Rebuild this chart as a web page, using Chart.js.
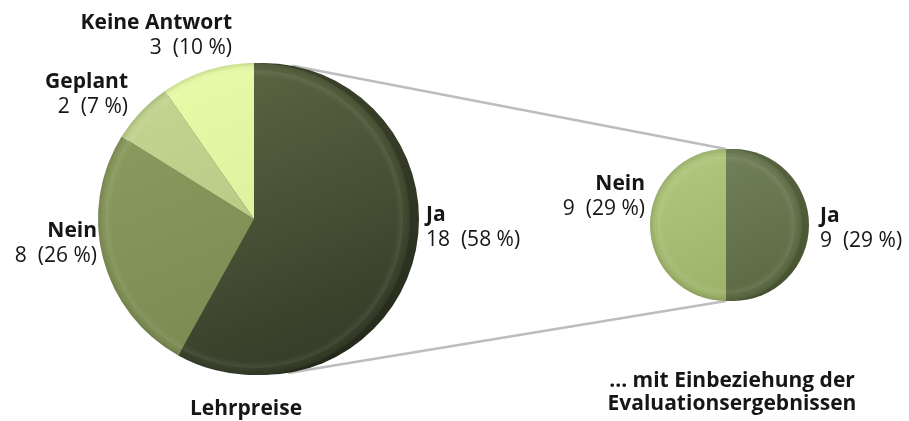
<!DOCTYPE html>
<html><head><meta charset="utf-8">
<script src="https://cdn.jsdelivr.net/npm/chart.js@4.4.1/dist/chart.umd.min.js"></script>
<style>
html,body{margin:0;padding:0;background:#fff;}
#wrap{position:relative;width:909px;height:421px;overflow:hidden;}
#wrap canvas{position:absolute;left:0;top:0;}
</style></head><body>
<div id="wrap"><canvas id="cMain" width="909" height="421"></canvas><canvas id="cSub" width="909" height="421"></canvas></div>
<script>
// ---- data ----
const mainTitle = ['Lehrpreise'];
const mainCategories = ['Ja', 'Nein', 'Geplant', 'Keine Antwort'];
const mainValues = [18, 8, 2, 3];
const mainPercents = [58, 26, 7, 10];

const subTitle = ['\u2026 mit Einbeziehung der', 'Evaluationsergebnissen'];
const subCategories = ['Ja', 'Nein'];
const subValues = [9, 9];
const subPercents = [29, 29];

// ---- styles / layout ----
const FONT = '"Open Sans", "Noto Sans", sans-serif';
const FS = 21;
const LINE = 25;
const TEXT = '#161616';
const mainShades = [['#5d6844', '#343a27'], ['#8c9d60', '#77874f'], ['#c3d590', '#afc17e'], ['#e7fba7', '#d3e995']];
const subShades = [['#72825a', '#5c6a43'], ['#b0c77c', '#9bb067']];
const mainLabelPlace = [
  {dx: 172, dy: 2, align: 'left'},
  {dx: -157, dy: 18, align: 'right'},
  {dx: -126, dy: -131, align: 'right'},
  {dx: -22, dy: -190, align: 'right'}
];
const subLabelPlace = [
  {dx: 94, dy: -3, align: 'left'},
  {dx: -81, dy: -35, align: 'right'}
];

function shadeFill(shades) {
  return (c) => {
    const chart = c.chart, a = chart.chartArea;
    const pair = shades[c.dataIndex];
    if (!a) return pair[0];
    const g = chart.ctx.createLinearGradient(a.left + a.width * 0.3, a.top, a.right - a.width * 0.3, a.bottom);
    g.addColorStop(0, pair[0]);
    g.addColorStop(1, pair[1]);
    return g;
  };
}

function pieGeom(chart) {
  const arc = chart.getDatasetMeta(0).data[0];
  return {x: arc.x, y: arc.y, r: arc.outerRadius};
}

function depthPlugin(dx, dy, top, bottom) {
  return {
    id: 'depth',
    beforeDatasetsDraw(chart) {
      const {x, y, r} = pieGeom(chart);
      const ctx = chart.ctx;
      ctx.save();
      const g = ctx.createLinearGradient(x, y - r, x, y + r);
      g.addColorStop(0, top);
      g.addColorStop(1, bottom);
      ctx.fillStyle = g;
      ctx.beginPath();
      ctx.arc(x + dx, y + dy, r, 0, Math.PI * 2);
      ctx.fill();
      ctx.restore();
    }
  };
}

const bevelPlugin = {
  id: 'bevel',
  afterDatasetsDraw(chart) {
    const {x, y, r} = pieGeom(chart);
    const ctx = chart.ctx;
    ctx.save();
    const inner = r - 14;
    const g = ctx.createRadialGradient(x, y, inner, x, y, r);
    g.addColorStop(0, 'rgba(255,255,255,0)');
    g.addColorStop(0.45, 'rgba(255,255,255,0.07)');
    g.addColorStop(0.6, 'rgba(0,0,0,0)');
    g.addColorStop(1, 'rgba(0,0,0,0.12)');
    ctx.fillStyle = g;
    ctx.beginPath();
    ctx.arc(x, y, r, 0, Math.PI * 2);
    ctx.fill();
    ctx.restore();
  }
};

function drawLabels(chart, cats, vals, pcts, place) {
  const {x, y} = pieGeom(chart);
  const ctx = chart.ctx;
  ctx.save();
  ctx.fillStyle = TEXT;
  ctx.textBaseline = 'alphabetic';
  cats.forEach((name, i) => {
    const p = place[i];
    ctx.textAlign = p.align;
    ctx.font = 'bold ' + FS + 'px ' + FONT;
    ctx.fillText(name, x + p.dx, y + p.dy);
    ctx.font = FS + 'px ' + FONT;
    ctx.fillText(vals[i] + '  (' + pcts[i] + ' %)', x + p.dx, y + p.dy + LINE);
  });
  ctx.restore();
}

function drawTitle(chart, lines, dx, dy) {
  const {x, y} = pieGeom(chart);
  const ctx = chart.ctx;
  ctx.save();
  ctx.fillStyle = TEXT;
  ctx.textAlign = 'center';
  ctx.textBaseline = 'alphabetic';
  ctx.font = 'bold ' + FS + 'px ' + FONT;
  lines.forEach((t, i) => ctx.fillText(t, x + dx, y + dy + i * (LINE - 2)));
  ctx.restore();
}

const commonOptions = {
  responsive: false,
  animation: false,
  events: [],
  plugins: {legend: {display: false}, tooltip: {enabled: false}}
};

// ---- secondary pie (drawn on top canvas) ----
const subChart = new Chart(document.getElementById('cSub'), {
  type: 'pie',
  data: {
    labels: subCategories,
    datasets: [{data: subValues, backgroundColor: shadeFill(subShades), borderWidth: 0, hoverOffset: 0}]
  },
  options: Object.assign({}, commonOptions, {layout: {padding: {left: 650, right: 107, top: 149, bottom: 120}}}),
  plugins: [
    depthPlugin(7, 0, '#56633d', '#45502f'),
    bevelPlugin,
    {id: 'subText', afterDraw(chart) {
      drawLabels(chart, subCategories, subValues, subPercents, subLabelPlace);
      drawTitle(chart, subTitle, 6, 162);
    }}
  ]
});

// ---- main pie (bottom canvas), with connector lines ----
const connectorPlugin = {
  id: 'connector',
  beforeDatasetsDraw(chart) {
    const m = pieGeom(chart);
    const s = pieGeom(subChart);
    const cx = m.x + 9, cy = m.y;
    const ctx = chart.ctx;
    ctx.save();
    ctx.strokeStyle = '#bdbdbd';
    ctx.lineWidth = 2.5;
    [-1, 1].forEach((side) => {
      const px = s.x, py = s.y + side * s.r;
      const vx = px - cx, vy = py - cy;
      const D = Math.hypot(vx, vy);
      const ang = Math.atan2(vy, vx);
      const beta = Math.acos(m.r / D);
      const t = ang + side * beta;
      ctx.beginPath();
      ctx.moveTo(cx + m.r * Math.cos(t), cy + m.r * Math.sin(t));
      ctx.lineTo(px, py);
      ctx.stroke();
    });
    ctx.restore();
  }
};

const mainChart = new Chart(document.getElementById('cMain'), {
  type: 'pie',
  data: {
    labels: mainCategories,
    datasets: [{data: mainValues, backgroundColor: shadeFill(mainShades), borderWidth: 0, hoverOffset: 0}]
  },
  options: Object.assign({}, commonOptions, {layout: {padding: {left: 98, right: 499, top: 63, bottom: 46}}}),
  plugins: [
    connectorPlugin,
    depthPlugin(9, 0, '#3b422a', '#23281a'),
    bevelPlugin,
    {id: 'mainText', afterDraw(chart) {
      drawLabels(chart, mainCategories, mainValues, mainPercents, mainLabelPlace);
      drawTitle(chart, mainTitle, -8, 196);
    }}
  ]
});
</script>
</body></html>
